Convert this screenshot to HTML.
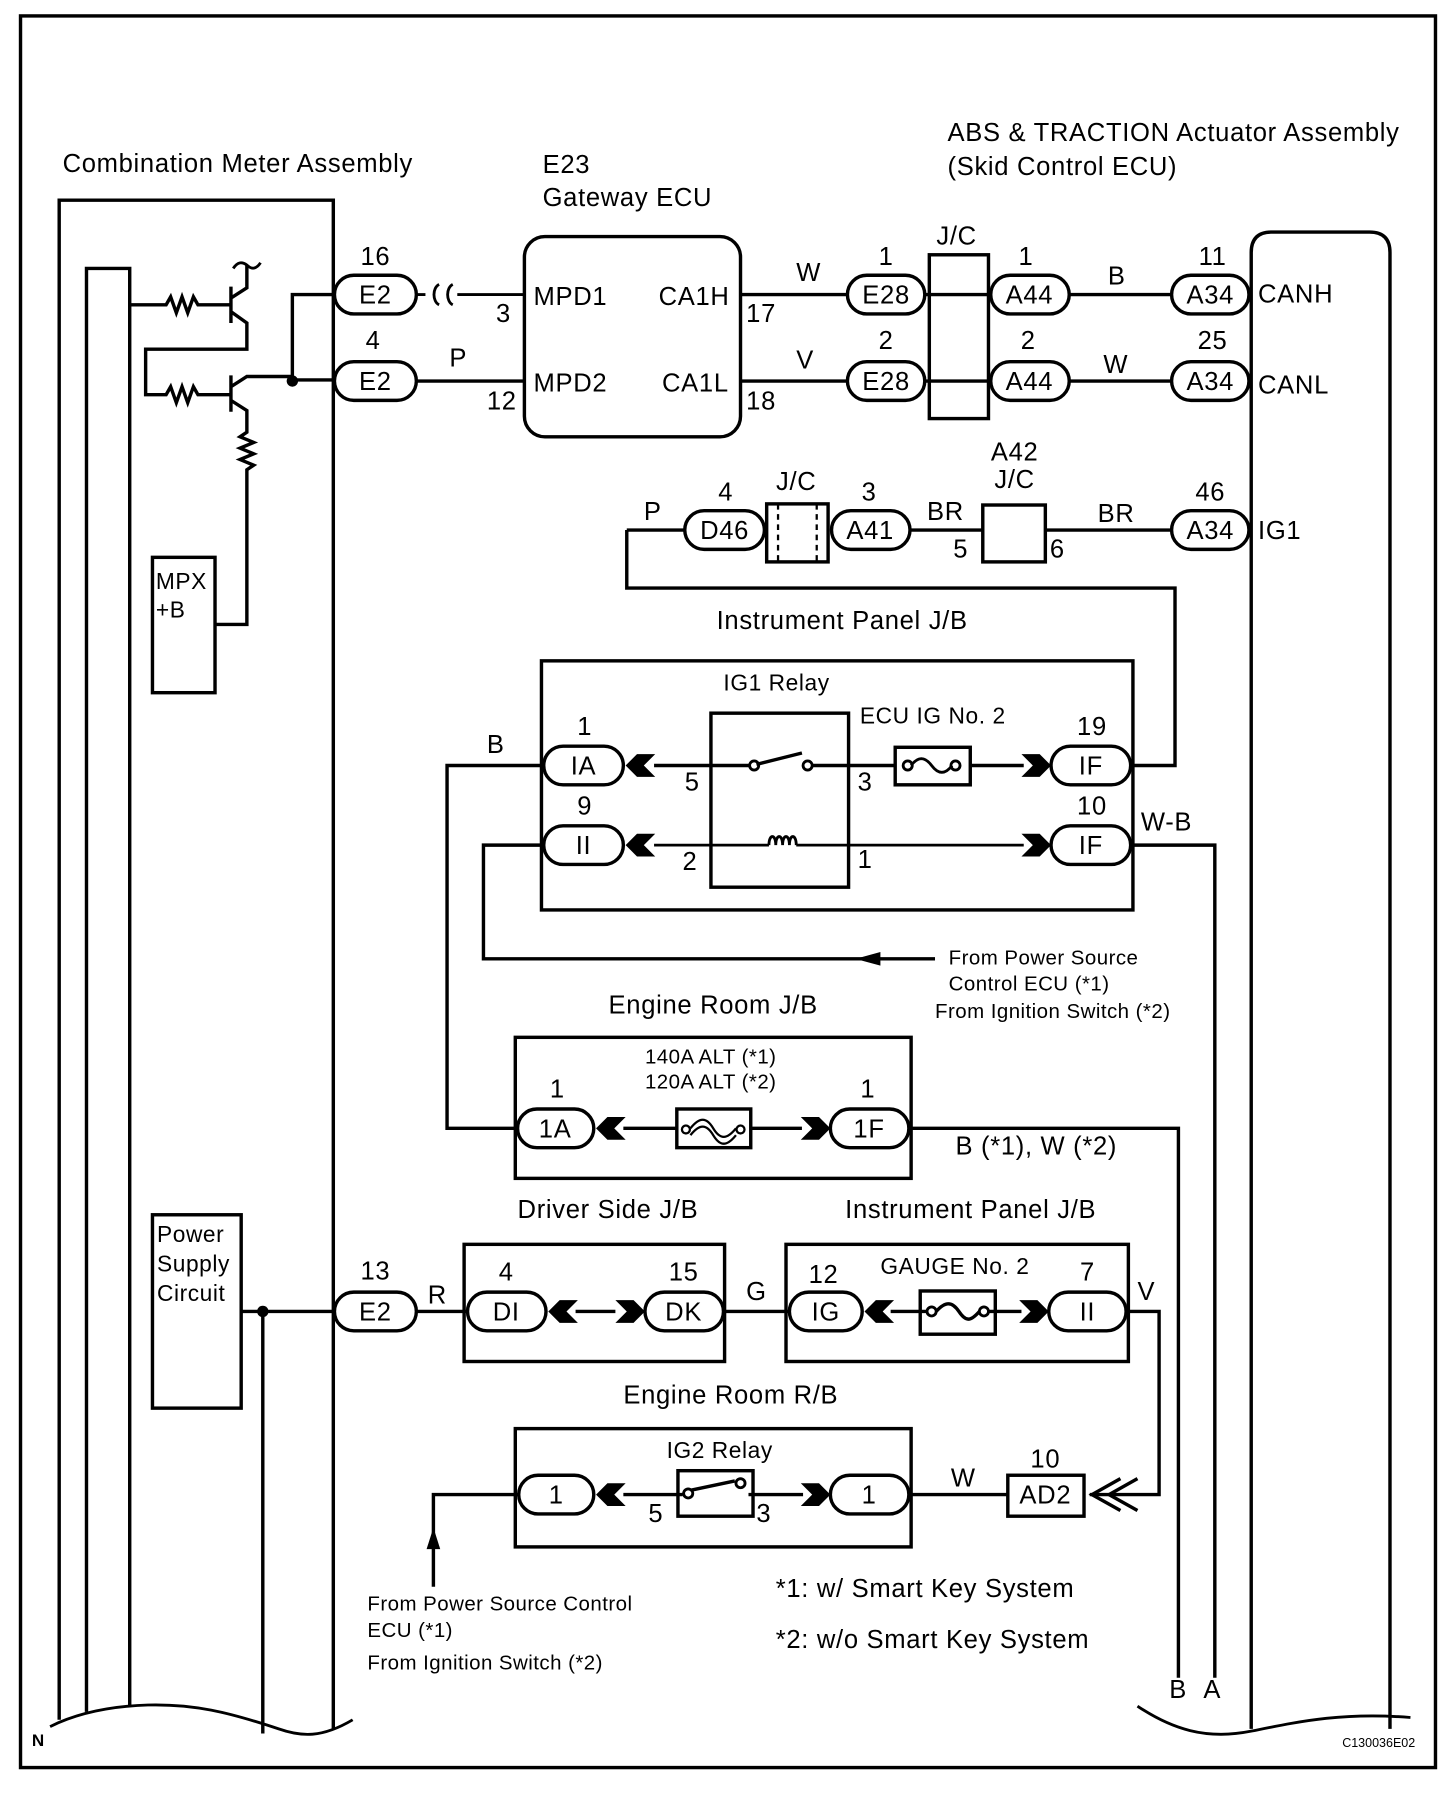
<!DOCTYPE html>
<html><head><meta charset="utf-8"><style>
html,body{margin:0;padding:0;background:#fff;}
svg{display:block;}
text{font-family:"Liberation Sans",Arial,sans-serif;fill:#000;}
</style></head><body>
<svg width="1456" height="1796" viewBox="0 0 1280 1579" xmlns="http://www.w3.org/2000/svg">
<defs>
<g id="al"><polygon points="0,0 10,-10 26,-10 16,0 26,10 10,10" fill="#000"/></g>
<g id="ar"><polygon points="0,0 -10,-10 -26,-10 -16,0 -26,10 -10,10" fill="#000"/></g>
</defs>
<rect x="0" y="0" width="1280" height="1579" fill="#fff"/>
<g fill="none" stroke="#000" stroke-width="3">
<rect x="18" y="14" width="1244" height="1540"/>
<path d="M52,1512 V176 H293 V1520"/>
<path d="M76,1505 V236 H114 V1500"/>
<path d="M44,1518 C70,1505 100,1500 130,1499 C170,1498 200,1505 245,1520 C265,1527 283,1528 310,1512" stroke-width="2.5"/>
<path d="M231,1153 V1524"/>
<path d="M1100,1520 V222 Q1100,204 1118,204 H1204 Q1222,204 1222,222 V1520"/>
<path d="M1000,1500 C1030,1520 1060,1530 1100,1522 C1140,1514 1180,1505 1240,1510" stroke-width="2.5"/>
<path d="M114,268 H146 l4,-7 5,14 5,-14 5,14 5,-14 4,7 H203"/>
<path d="M203,252 V284 M203,262 L217,253 V233 M203,274 L217,284 V307 H128 V347 H146 l4,-7 5,14 5,-14 5,14 5,-14 4,7 H203"/>
<path d="M205,236 c4,-6 8,-6 12,-3 c4,4 8,4 12,-2" stroke-width="2.5"/>
<path d="M203,330 V362 M203,340 L217,331 H257 M203,352 L217,361 V380 l-6,4 12,5 -12,5 12,5 -12,5 12,5 -6,4 V549 H189"/>
<path d="M257,334 V259 H294"/>
<path d="M257,334 H294"/>
<rect x="134" y="490" width="55" height="119"/>
<rect x="134" y="1068" width="78" height="170"/>
<path d="M212,1153 H294"/>
<rect x="294" y="242" width="72" height="34" rx="17"/>
<rect x="294" y="318" width="72" height="34" rx="17"/>
<rect x="294" y="1136" width="72" height="34" rx="17"/>
<path d="M366,259 H374 M386,250 c-6,3 -6,15 0,18 M398,250 c-6,3 -6,15 0,18 M402,259 H461" stroke-width="2.5"/>
<path d="M366,335 H461"/>
<rect x="461" y="208" width="190" height="176" rx="18"/>
<path d="M651,259 H745 M651,335 H745"/>
<rect x="745" y="242" width="68" height="34" rx="17"/>
<rect x="745" y="318" width="68" height="34" rx="17"/>
<path d="M813,259 H871 M813,335 H871"/>
<rect x="817" y="224" width="52" height="144"/>
<rect x="871" y="242" width="69" height="34" rx="17"/>
<rect x="871" y="318" width="69" height="34" rx="17"/>
<path d="M940,259 H1030 M940,335 H1030"/>
<rect x="1030" y="242" width="68" height="34" rx="17"/>
<rect x="1030" y="318" width="68" height="34" rx="17"/>
<path d="M551,466 H602 M551,466 V517 H1033 V673 H996"/>
<rect x="602" y="449" width="70" height="34" rx="17"/>
<rect x="674" y="443" width="54" height="51"/>
<path d="M684,443 V494 M718,443 V494" stroke-dasharray="5,4" stroke-width="2"/>
<rect x="731" y="449" width="69" height="34" rx="17"/>
<path d="M800,466 H1030"/>
<rect x="864" y="444" width="55" height="50" fill="#fff"/>
<rect x="1030" y="449" width="68" height="34" rx="17"/>
<rect x="476" y="581" width="520" height="219"/>
<rect x="625" y="627" width="121" height="153"/>
<rect x="478" y="656" width="70" height="34" rx="17"/>
<rect x="478" y="726" width="70" height="34" rx="17"/>
<rect x="924" y="656" width="70" height="34" rx="17"/>
<rect x="924" y="726" width="70" height="34" rx="17"/>
<path d="M575,673 H660 M665,672 L705,662 M714,673 H787 M853,673 H900"/>
<circle cx="663" cy="673" r="4" stroke-width="2.5"/>
<circle cx="710" cy="673" r="4" stroke-width="2.5"/>
<rect x="787" y="657" width="66" height="33"/>
<path d="M801,673 c6,-8 12,-8 18,0 c6,8 12,8 18,0" stroke-width="2.5"/>
<circle cx="798" cy="673" r="4" stroke-width="2.5"/>
<circle cx="840" cy="673" r="4" stroke-width="2.5"/>
<path d="M575,743 H676 M700,743 H900 M676,743 c0,-10 6,-10 6,0 c0,-10 6,-10 6,0 c0,-10 6,-10 6,0 c0,-10 6,-10 6,0" stroke-width="2.5"/>
<path d="M478,673 H393 V992 H455"/>
<path d="M478,743 H425 V843 H822"/>
<path d="M994,743 H1068 V1475"/>
<rect x="453" y="912" width="348" height="124"/>
<rect x="455" y="975" width="67" height="34" rx="17"/>
<rect x="730" y="975" width="69" height="34" rx="17"/>
<rect x="595" y="975" width="65" height="34"/>
<path d="M548,992 H595 M660,992 H705"/>
<path d="M607,992 c8,-10 14,-10 20,0 c6,10 12,10 20,0 M607,998 c8,-10 14,-10 20,0 c6,10 12,10 20,0" stroke-width="2"/>
<circle cx="603" cy="993" r="3.5" stroke-width="2"/>
<circle cx="651" cy="993" r="3.5" stroke-width="2"/>
<path d="M799,992 H1036 V1475"/>
<rect x="408" y="1094" width="229" height="103"/>
<rect x="411" y="1136" width="69" height="34" rx="17"/>
<rect x="567" y="1136" width="69" height="34" rx="17"/>
<path d="M366,1153 H411 M506,1153 H541 M636,1153 H694"/>
<rect x="691" y="1094" width="301" height="103"/>
<rect x="694" y="1136" width="64" height="34" rx="17"/>
<rect x="922" y="1136" width="68" height="34" rx="17"/>
<rect x="809" y="1135" width="66" height="38"/>
<path d="M783,1153 H815 M823,1153 c8,-9 14,-9 20,0 c6,9 10,9 18,0 M869,1153 H898"/>
<circle cx="819" cy="1153" r="4" stroke-width="2.5"/>
<circle cx="865" cy="1153" r="4" stroke-width="2.5"/>
<path d="M990,1153 H1019 V1314 H958"/>
<path d="M985,1300 L960,1314 L985,1328 M1000,1300 L975,1314 L1000,1328"/>
<rect x="453" y="1256" width="348" height="104"/>
<rect x="456" y="1297" width="66" height="34" rx="17"/>
<rect x="730" y="1297" width="69" height="34" rx="17"/>
<rect x="596" y="1293" width="66" height="40"/>
<path d="M548,1314 H600 M608,1310 L646,1302 M658,1314 H706"/>
<circle cx="605" cy="1313" r="4" stroke-width="2.5"/>
<circle cx="651" cy="1304" r="4" stroke-width="2.5"/>
<path d="M799,1314 H886"/>
<rect x="886" y="1297" width="67" height="36"/>
<path d="M456,1314 H381 V1395"/>
</g>
<circle cx="257" cy="335" r="5"/>
<circle cx="231" cy="1153" r="5"/>
<polygon points="381,1343 375,1362 387,1362"/>
<polygon points="752,843 774,837 774,849"/>
<use href="#al" x="550" y="673"/><use href="#ar" x="924" y="673"/>
<use href="#al" x="550" y="743"/><use href="#ar" x="924" y="743"/>
<use href="#al" x="524" y="992"/><use href="#ar" x="730" y="992"/>
<use href="#al" x="482" y="1153"/><use href="#ar" x="567" y="1153"/>
<use href="#al" x="760" y="1153"/><use href="#ar" x="922" y="1153"/>
<use href="#al" x="524" y="1314"/><use href="#ar" x="730" y="1314"/>
<g font-size="22.5" letter-spacing="0.6">
<text x="55" y="151">Combination Meter Assembly</text>
<text x="477" y="152">E23</text>
<text x="477" y="181">Gateway ECU</text>
<text x="833" y="124">ABS &amp; TRACTION Actuator Assembly</text>
<text x="833" y="154">(Skid Control ECU)</text>
<g text-anchor="middle">
<text x="330" y="233">16</text><text x="330" y="267">E2</text>
<text x="328" y="307">4</text><text x="330" y="343">E2</text>
<text x="330" y="1125">13</text><text x="330" y="1161">E2</text>
<text x="779" y="233">1</text><text x="779" y="267">E28</text>
<text x="779" y="307">2</text><text x="779" y="343">E28</text>
<text x="841" y="215">J/C</text>
<text x="902" y="233">1</text><text x="905" y="267">A44</text>
<text x="904" y="307">2</text><text x="905" y="343">A44</text>
<text x="1066" y="233">11</text><text x="1064" y="267">A34</text>
<text x="1066" y="307">25</text><text x="1064" y="343">A34</text>
<text x="638" y="440">4</text><text x="637" y="474">D46</text>
<text x="700" y="431">J/C</text>
<text x="764" y="440">3</text><text x="765" y="474">A41</text>
<text x="892" y="405">A42</text><text x="892" y="429">J/C</text>
<text x="1064" y="440">46</text><text x="1064" y="474">A34</text>
<text x="514" y="646">1</text><text x="513" y="681">IA</text>
<text x="514" y="716">9</text><text x="513" y="751">II</text>
<text x="960" y="646">19</text><text x="959" y="681">IF</text>
<text x="960" y="716">10</text><text x="959" y="751">IF</text>
<text x="490" y="965">1</text><text x="488" y="1000">1A</text>
<text x="763" y="965">1</text><text x="764" y="1000">1F</text>
<text x="445" y="1126">4</text><text x="445" y="1161">DI</text>
<text x="601" y="1126">15</text><text x="601" y="1161">DK</text>
<text x="724" y="1128">12</text><text x="726" y="1161">IG</text>
<text x="956" y="1126">7</text><text x="956" y="1161">II</text>
<text x="489" y="1322">1</text><text x="764" y="1322">1</text>
<text x="919" y="1290">10</text><text x="919" y="1322">AD2</text>
</g>
<text x="1106" y="266">CANH</text><text x="1106" y="346">CANL</text><text x="1106" y="474">IG1</text>
<text x="469" y="268">MPD1</text><text x="579" y="268">CA1H</text>
<text x="469" y="344">MPD2</text><text x="582" y="344">CA1L</text>
<text x="436" y="283">3</text><text x="428" y="360">12</text>
<text x="656" y="283">17</text><text x="656" y="360">18</text>
<text x="700" y="247">W</text><text x="700" y="324">V</text>
<text x="974" y="250">B</text><text x="970" y="328">W</text>
<text x="395" y="322">P</text>
<text x="566" y="457">P</text><text x="815" y="457">BR</text><text x="965" y="459">BR</text>
<text x="838" y="490">5</text><text x="923" y="490">6</text>
<text x="630" y="553">Instrument Panel J/B</text>
<text x="428" y="662">B</text>
<text x="602" y="695">5</text><text x="754" y="695">3</text>
<text x="600" y="765">2</text><text x="754" y="763">1</text>
<text x="1003" y="730">W-B</text>
<text x="535" y="891">Engine Room J/B</text>
<text x="840" y="1015">B (*1), W (*2)</text>
<text x="455" y="1071">Driver Side J/B</text>
<text x="743" y="1071">Instrument Panel J/B</text>
<text x="376" y="1146">R</text><text x="656" y="1143">G</text><text x="1000" y="1143">V</text>
<text x="548" y="1234">Engine Room R/B</text>
<text x="836" y="1307">W</text>
<text x="570" y="1338">5</text><text x="665" y="1338">3</text>
<text x="682" y="1404">*1: w/ Smart Key System</text>
<text x="682" y="1449">*2: w/o Smart Key System</text>
<text x="1028" y="1493">B</text><text x="1058" y="1493">A</text>
</g>
<g font-size="20" letter-spacing="0.5">
<text x="137" y="518">MPX</text><text x="137" y="543">+B</text>
<text x="138" y="1092">Power</text><text x="138" y="1118">Supply</text><text x="138" y="1144">Circuit</text>
<text x="636" y="607">IG1 Relay</text>
<text x="756" y="636">ECU IG No. 2</text>
<text x="774" y="1120">GAUGE No. 2</text>
<text x="586" y="1282">IG2 Relay</text>
</g>
<g font-size="18" letter-spacing="0.4">
<text x="834" y="848">From Power Source</text>
<text x="834" y="871">Control ECU (*1)</text>
<text x="822" y="895">From Ignition Switch (*2)</text>
<text x="567" y="935">140A ALT (*1)</text>
<text x="567" y="957">120A ALT (*2)</text>
<text x="323" y="1416">From Power Source Control</text>
<text x="323" y="1439">ECU (*1)</text>
<text x="323" y="1468">From Ignition Switch (*2)</text>
</g>
<text x="28" y="1535" font-size="15" font-weight="bold">N</text>
<text x="1180" y="1536" font-size="11">C130036E02</text>
</svg>
</body></html>
